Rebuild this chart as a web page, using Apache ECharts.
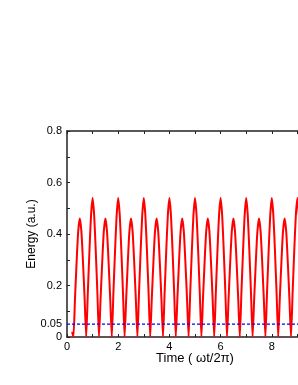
<!DOCTYPE html>
<html>
<head>
<meta charset="utf-8">
<script src="https://cdn.jsdelivr.net/npm/echarts@6/dist/echarts.min.js"></script>
<style>
html,body{margin:0;padding:0;background:#fff;}
#c{width:298px;height:385px;}
</style>
</head>
<body>
<div id="c"></div>
<script>
const startPoint = [0.2, 0.02];
const tStart = 0.25;
const tStep = 0.0625;
const energy = [
  0,0.15,0.29,0.41,0.46,0.41,0.29,0.15,0,0.17,0.33,0.47,0.54,0.47,0.33,0.17,
  0,0.15,0.29,0.41,0.46,0.41,0.29,0.15,0,0.17,0.33,0.47,0.54,0.47,0.33,0.17,
  0,0.15,0.29,0.41,0.46,0.41,0.29,0.15,0,0.17,0.33,0.47,0.54,0.47,0.33,0.17,
  0,0.15,0.29,0.41,0.46,0.41,0.29,0.15,0,0.17,0.33,0.47,0.54,0.47,0.33,0.17,
  0,0.15,0.29,0.41,0.46,0.41,0.29,0.15,0,0.17,0.33,0.47,0.54,0.47,0.33,0.17,
  0,0.15,0.29,0.41,0.46,0.41,0.29,0.15,0,0.17,0.33,0.47,0.54,0.47,0.33,0.17,
  0,0.15,0.29,0.41,0.46,0.41,0.29,0.15,0,0.17,0.33,0.47,0.54,0.47,0.33,0.17,
  0,0.15,0.29,0.41,0.46,0.41,0.29,0.15,0,0.17,0.33,0.47,0.54,0.47,0.33,0.17,
  0,0.15,0.29,0.41,0.46,0.41,0.29,0.15,0,0.17,0.33,0.47,0.54,0.47,0.33,0.17,
  0
];
const thresholdValue = 0.05;
const thresholdRange = [0, 10];
const xLabelValues = [0, 2, 4, 6, 8];
const xTickValues = [0,1,2,3,4,5,6,7,8,9,10];
const yLabelValues = [0, 0.05, 0.2, 0.4, 0.6, 0.8];
const yTickValues = [0,0.1,0.2,0.3,0.4,0.5,0.6,0.7,0.8];

const curve = [startPoint].concat(energy.map((e, i) => [tStart + i * tStep, e]));
const threshold = thresholdRange.map(t => [t, thresholdValue]);

const font = "'Liberation Sans', Arial, sans-serif";
const axisColor = '#222';
const chart = echarts.init(document.getElementById('c'), null, {renderer: 'canvas'});
chart.setOption({
  animation: false,
  backgroundColor: '#fff',
  grid: {left: 67, top: 131, width: 256, height: 206, outerBoundsMode: 'none', containLabel: false},
  xAxis: [{
    type: 'value', min: 0, max: 10, position: 'bottom',
    name: 'Time ( ωt/2π)', nameLocation: 'middle', nameGap: 15, nameMoveOverlap: false,
    nameTextStyle: {fontFamily: font, fontSize: 13, color: '#000'},
    axisLine: {lineStyle: {color: axisColor, width: 1.5}},
    axisTick: {inside: true, length: 3, customValues: xTickValues, lineStyle: {color: axisColor}},
    axisLabel: {customValues: xLabelValues, fontFamily: font, fontSize: 11, color: '#000', margin: 4},
    splitLine: {show: false}
  }, {
    type: 'value', min: 0, max: 10, position: 'top',
    axisLine: {lineStyle: {color: axisColor, width: 1.5}},
    axisTick: {inside: true, length: 3, customValues: xTickValues, lineStyle: {color: axisColor}},
    axisLabel: {show: false},
    splitLine: {show: false}
  }],
  yAxis: [{
    type: 'value', min: 0, max: 0.8,
    name: 'Energy (a.u.)', nameLocation: 'middle', nameGap: 29, nameMoveOverlap: false,
    nameTextStyle: {fontFamily: font, fontSize: 12, color: '#000'},
    axisLine: {show: true, lineStyle: {color: axisColor, width: 1.5}},
    axisTick: {show: true, inside: true, length: 3, customValues: yTickValues, lineStyle: {color: axisColor}},
    axisLabel: {customValues: yLabelValues, fontFamily: font, fontSize: 11, color: '#000', margin: 5},
    splitLine: {show: false}
  }],
  series: [{
    type: 'line', data: curve, showSymbol: false, smooth: 0.2,
    lineStyle: {color: '#ff0000', width: 2}, clip: true
  }, {
    type: 'line', data: threshold, showSymbol: false,
    lineStyle: {color: '#0000ff', width: 1.2, type: [3, 2]}
  }]
});
</script>
</body>
</html>
